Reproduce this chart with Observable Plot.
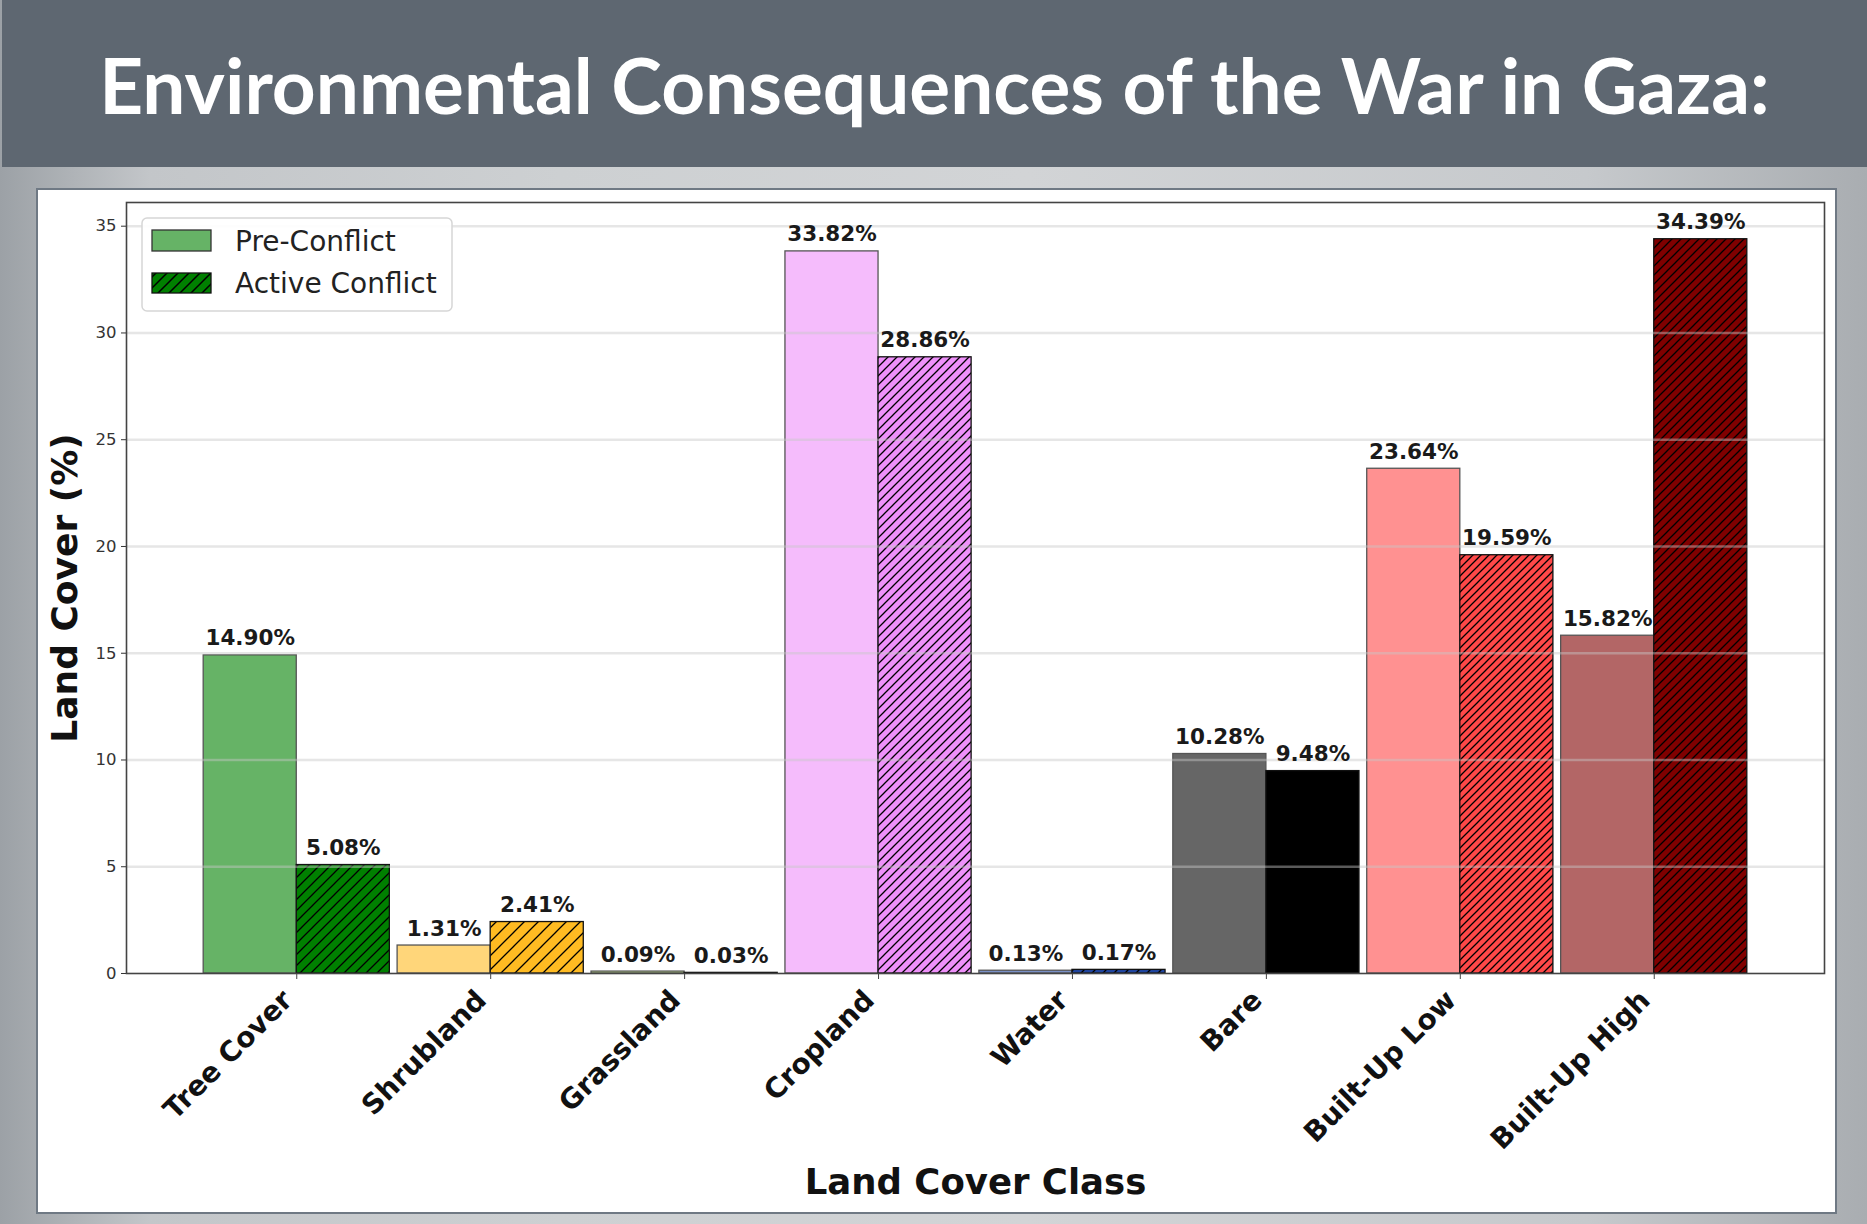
<!DOCTYPE html>
<html><head><meta charset="utf-8">
<script src="https://cdn.jsdelivr.net/npm/d3@7"></script>
<script src="https://cdn.jsdelivr.net/npm/@observablehq/plot@0.6"></script>
<style>
html,body{margin:0;padding:0;}
body{width:1867px;height:1224px;position:relative;overflow:hidden;
 background:linear-gradient(90deg,#9ca1a6 0%,#c3c6c9 8%,#cdd0d2 30%,#d2d4d6 55%,#c6c9cc 85%,#a9adb1 100%);
 font-family:"DejaVu Sans",sans-serif;}
#titlebar{position:absolute;left:2px;top:0;width:1865px;height:167px;background:#5e6771;
 display:flex;align-items:center;justify-content:center;}
#title{color:#fff;font-family:Lato,"Open Sans",sans-serif;font-weight:700;font-size:76.5px;white-space:nowrap;margin-top:0px;}
#panel{position:absolute;left:36px;top:188px;width:1797px;height:1022px;background:#fff;border:2px solid #6f7984;}
#chart{position:absolute;left:38px;top:190px;}
#legend{position:absolute;left:0;top:0;}
</style></head>
<body>
<div id="titlebar"><div id="title">Environmental Consequences of the War in Gaza:</div></div>
<div id="panel"></div>
<div id="chart"></div>
<script>
// ---- data ----
const categories = ["Tree Cover","Shrubland","Grassland","Cropland","Water","Bare","Built-Up Low","Built-Up High"];
const preConflict = [14.90, 1.31, 0.09, 33.82, 0.13, 10.28, 23.64, 15.82];
const activeConflict = [5.08, 2.41, 0.03, 28.86, 0.17, 9.48, 19.59, 34.39];
const seriesNames = ["Pre-Conflict", "Active Conflict"];
const yTicks = [0, 5, 10, 15, 20, 25, 30, 35];

// ---- styles ----
const activeColor = {"Tree Cover":"#008000","Shrubland":"#ffbb22","Grassland":"#9acd32","Cropland":"#ee90fa",
  "Water":"#1f45a0","Bare":"#000000","Built-Up Low":"#ff4848","Built-Up High":"#800000"};
const preColor = {"Tree Cover":"#66b366","Shrubland":"#ffd67a","Grassland":"#c2e184","Cropland":"#f5bcfc",
  "Water":"#7990c6","Bare":"#666666","Built-Up Low":"#ff9191","Built-Up High":"#b36666"};
const hatchGap = {"Tree Cover":11,"Shrubland":14,"Grassland":10,"Cropland":9,"Water":11,"Bare":9,"Built-Up Low":8,"Built-Up High":9};
const barW = 0.48;

const rows = [];
categories.forEach((c, i) => {
  rows.push({cat:c, series:seriesNames[0], value:preConflict[i], x1:i-barW, x2:i, fill:preColor[c], stroke:"#555555"});
  rows.push({cat:c, series:seriesNames[1], value:activeConflict[i], x1:i, x2:i+barW, fill:`url(#hatch-${i})`, stroke:"#111111"});
});
const tickIdx = categories.map((c, i) => i);

const NS = "http://www.w3.org/2000/svg";
function el(name, attrs){const e=document.createElementNS(NS,name);for(const k in attrs)e.setAttribute(k,attrs[k]);return e;}
function makePattern(id, color, s, w){
  const p = el("pattern",{id, patternUnits:"userSpaceOnUse", width:s, height:s});
  p.appendChild(el("rect",{x:0,y:0,width:s,height:s,fill:color}));
  p.appendChild(el("path",{d:`M0,${s} L${s},0 M${-s/2},${s/2} L${s/2},${-s/2} M${s/2},${1.5*s} L${1.5*s},${s/2}`,
    stroke:"#000", "stroke-width":w, fill:"none"}));
  return p;
}

const chart = Plot.plot({
  width:1797, height:1022,
  marginLeft:88, marginRight:11, marginTop:12, marginBottom:239,
  style:{background:"transparent", fontFamily:"DejaVu Sans", color:"#222"},
  x:{type:"linear", domain:[-0.878, 7.878]},
  y:{domain:[0, 36.11]},
  color:{type:"identity"},
  marks:[
    Plot.rect(rows, {x1:"x1", x2:"x2", y1:0, y2:"value", fill:"fill", stroke:"stroke", strokeWidth:1.3}),
    Plot.ruleY(yTicks.filter(t => t > 0), {stroke:"#c8c8c8", strokeOpacity:0.45, strokeWidth:2.5}),
    Plot.text(rows, {x:d => (d.x1 + d.x2) / 2, y:"value", text:d => d.value.toFixed(2) + "%",
      dy:-10, lineAnchor:"bottom", fontSize:21.5, fontWeight:"bold", fill:"#1a1a1a"}),
    Plot.axisY({ticks:yTicks, tickSize:5, tickPadding:5, fontSize:16.5, label:null, color:"#333"}),
    Plot.axisX({ticks:tickIdx, tickFormat:() => "", tickSize:6, label:null, stroke:"#444"}),
    Plot.axisX({ticks:tickIdx, tickFormat:i => categories[i], tickRotate:-45,
      tickSize:0, tickPadding:10, dx:-9, dy:12, fontSize:28, fontWeight:"bold", label:null, fill:"#111"}),
    Plot.frame({stroke:"#444", strokeWidth:1.6}),
    Plot.text(["Land Cover (%)"], {frameAnchor:"left", rotate:-90, dx:-61, textAnchor:"middle", fontSize:36, fontWeight:"bold", fill:"#111"}),
    Plot.text(["Land Cover Class"], {frameAnchor:"bottom", dy:220, lineAnchor:"bottom", fontSize:35.5, fontWeight:"bold", fill:"#111"})
  ]
});
const defs = el("defs", {});
categories.forEach((c, i) => defs.appendChild(makePattern(`hatch-${i}`, activeColor[c], hatchGap[c], 1.3)));
chart.insertBefore(defs, chart.firstChild);
document.getElementById("chart").appendChild(chart);

// legend overlay
const lg = el("svg", {id:"legend", width:1867, height:1224});
const ldefs = el("defs", {});
ldefs.appendChild(makePattern("lg-hatch", activeColor["Tree Cover"], 11, 1.5));
lg.appendChild(ldefs);
lg.appendChild(el("rect", {x:142, y:218, width:310, height:93, rx:5, fill:"#fff", "fill-opacity":0.9, stroke:"#d6d6d6", "stroke-width":1.5}));
lg.appendChild(el("rect", {x:152, y:230, width:59, height:21, fill:preColor["Tree Cover"], stroke:"#333", "stroke-width":1.3}));
lg.appendChild(el("rect", {x:152, y:273, width:59, height:20, fill:"url(#lg-hatch)", stroke:"#111", "stroke-width":1.3}));
seriesNames.forEach((s, k) => {
  const t = el("text", {x:235, y:[251, 293][k], "font-family":"DejaVu Sans", "font-size":28, fill:"#222"});
  t.textContent = s;
  lg.appendChild(t);
});
lg.style.position = "absolute"; lg.style.left = "0"; lg.style.top = "0";
document.body.appendChild(lg);
</script>
</body></html>
